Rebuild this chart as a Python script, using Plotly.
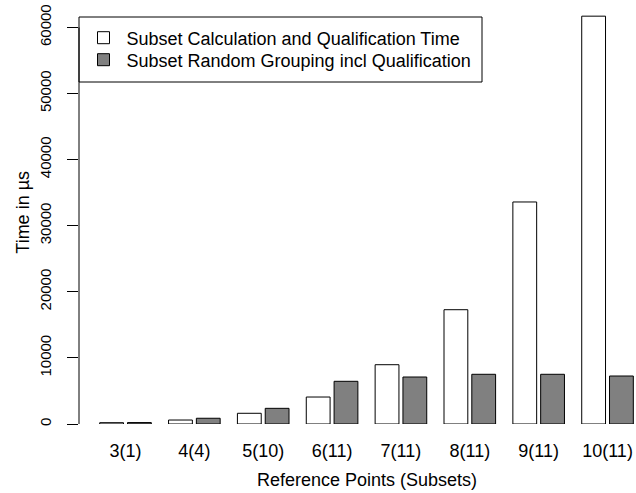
import plotly.graph_objects as go

categories = ["3(1)", "4(4)", "5(10)", "6(11)", "7(11)", "8(11)", "9(11)", "10(11)"]
calc_qual = [200, 600, 1620, 4080, 8970, 17290, 33590, 61700]
random_group = [220, 870, 2370, 6460, 7110, 7520, 7520, 7260]
series_names = ["Subset Calculation and Qualification Time",
                "Subset Random Grouping incl Qualification"]
y_ticks = [0, 10000, 20000, 30000, 40000, 50000, 60000]

FONT = "Liberation Sans, Arial, Helvetica, sans-serif"

fig = go.Figure()
fig.add_trace(go.Bar(x=categories, y=calc_qual, name=series_names[0], legend="legend",
                     marker=dict(color="#ffffff", line=dict(color="#000000", width=1))))
fig.add_trace(go.Bar(x=categories, y=random_group, name=series_names[1], legend="legend2",
                     marker=dict(color="#808080", line=dict(color="#000000", width=1))))

W, H = 636, 493
L, B = 79, 69
plot_w = W - L
plot_h = H - B
px_per_unit = 68.86
x0 = -(125.5 - L) / px_per_unit
x1 = x0 + plot_w / px_per_unit
ytop = plot_h * 60000 / 396.6

legend_common = dict(x=1.5 / plot_w, xanchor="left", yanchor="middle",
                     bgcolor="rgba(0,0,0,0)", borderwidth=0, itemwidth=36,
                     font=dict(family=FONT, size=18, color="#000000"))

fig.update_layout(
    width=W, height=H,
    margin=dict(l=L, r=0, t=0, b=B, pad=0),
    paper_bgcolor="white", plot_bgcolor="white",
    barmode="group", bargap=0.1926, bargroupgap=0.144,
    font=dict(family=FONT, size=18, color="#000000"),
    showlegend=True,
    legend=dict(y=1 - 38 / plot_h, **legend_common),
    legend2=dict(y=1 - 60 / plot_h, **legend_common),
    xaxis=dict(type="category", range=[x0, x1], showline=False, showgrid=False,
               zeroline=False, ticks="outside", ticklen=10,
               tickcolor="rgba(0,0,0,0)",
               tickfont=dict(family=FONT, size=18, color="#000000")),
    yaxis=dict(range=[0, ytop], showline=False, showgrid=False, zeroline=False,
               tickvals=y_ticks, ticktext=[str(v) for v in y_ticks],
               ticks="outside", ticklen=11, tickwidth=1, tickcolor="#000000",
               tickangle=-90, ticklabelstandoff=10,
               tickfont=dict(family=FONT, size=15, color="#000000")),
    shapes=[
        dict(type="line", xref="paper", yref="y", x0=0, x1=0, y0=0, y1=60000,
             line=dict(color="#000000", width=1)),
        dict(type="rect", xref="paper", yref="paper", x0=0, x1=(482 - L) / plot_w,
             y0=1 - 82 / plot_h, y1=1 - 17 / plot_h,
             line=dict(color="#000000", width=1), fillcolor="white", layer="below"),
    ],
    annotations=[
        dict(text="Reference Points (Subsets)", xref="paper", yref="paper",
             x=(366.5 - L) / plot_w, y=-(480 - plot_h) / plot_h,
             xanchor="center", yanchor="middle", showarrow=False,
             font=dict(family=FONT, size=18, color="#000000")),
        dict(text="Time in µs", xref="paper", yref="paper",
             x=(22.7 - L) / plot_w, y=0.5, textangle=-90,
             xanchor="center", yanchor="middle", showarrow=False,
             font=dict(family=FONT, size=18, color="#000000")),
    ],
)

fig.write_html("out.html", config={"displayModeBar": False},
               post_script="document.body.style.margin='0';document.body.style.padding='0';")
